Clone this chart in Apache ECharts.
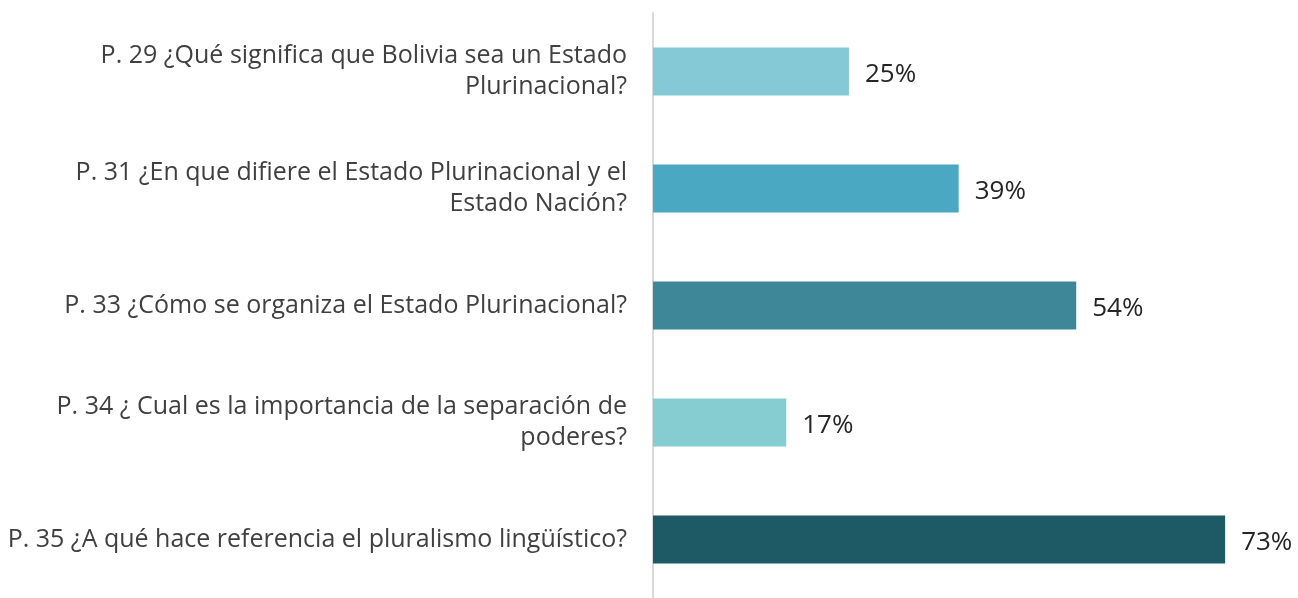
<!DOCTYPE html>
<html>
<head>
<meta charset="utf-8">
<script src="https://cdn.jsdelivr.net/npm/echarts@6/dist/echarts.min.js"></script>
<style>
  html, body { margin: 0; padding: 0; background: #fff; }
  #chart { width: 1298px; height: 598px; }
</style>
</head>
<body>
<div id="chart"></div>
<script>
  // preguntas (de arriba hacia abajo)
  var categories = [
    'P. 29 ¿Qué significa que Bolivia sea un Estado\nPlurinacional?',
    'P. 31 ¿En que difiere el Estado Plurinacional y el\nEstado Nación?',
    'P. 33 ¿Cómo se organiza el Estado Plurinacional?',
    'P. 34 ¿ Cual es la importancia de la separación de\npoderes?',
    'P. 35 ¿A qué hace referencia el pluralismo lingüístico?'
  ];
  var values = [25, 39, 54, 17, 73];
  var barColors = ['#84c9d5', '#4ba8c2', '#3e8799', '#85cdd0', '#1d5a66'];

  var chart = echarts.init(document.getElementById('chart'));
  chart.setOption({
    animation: false,
    textStyle: { fontFamily: 'Open Sans' },
    grid: { left: 653, top: 13, width: 627, height: 590, containLabel: false },
    xAxis: {
      type: 'value',
      min: 0,
      max: 80,
      show: false
    },
    yAxis: {
      type: 'category',
      inverse: true,
      data: categories,
      axisLine: { show: true, lineStyle: { color: '#d9d9d9', width: 2 } },
      axisTick: { show: false },
      axisLabel: {
        margin: 26,
        fontSize: 25,
        lineHeight: 31,
        color: '#404040',
        align: 'right',
        padding: [4, 0, 0, 0]
      }
    },
    series: [
      {
        type: 'bar',
        barWidth: 48,
        data: values.map(function (v, i) {
          return { value: v, itemStyle: { color: barColors[i] } };
        }),
        label: {
          show: true,
          position: 'right',
          distance: 16,
          fontSize: 26,
          color: '#262626',
          offset: [0, 3],
          formatter: '{c}%'
        }
      }
    ]
  });
</script>
</body>
</html>
